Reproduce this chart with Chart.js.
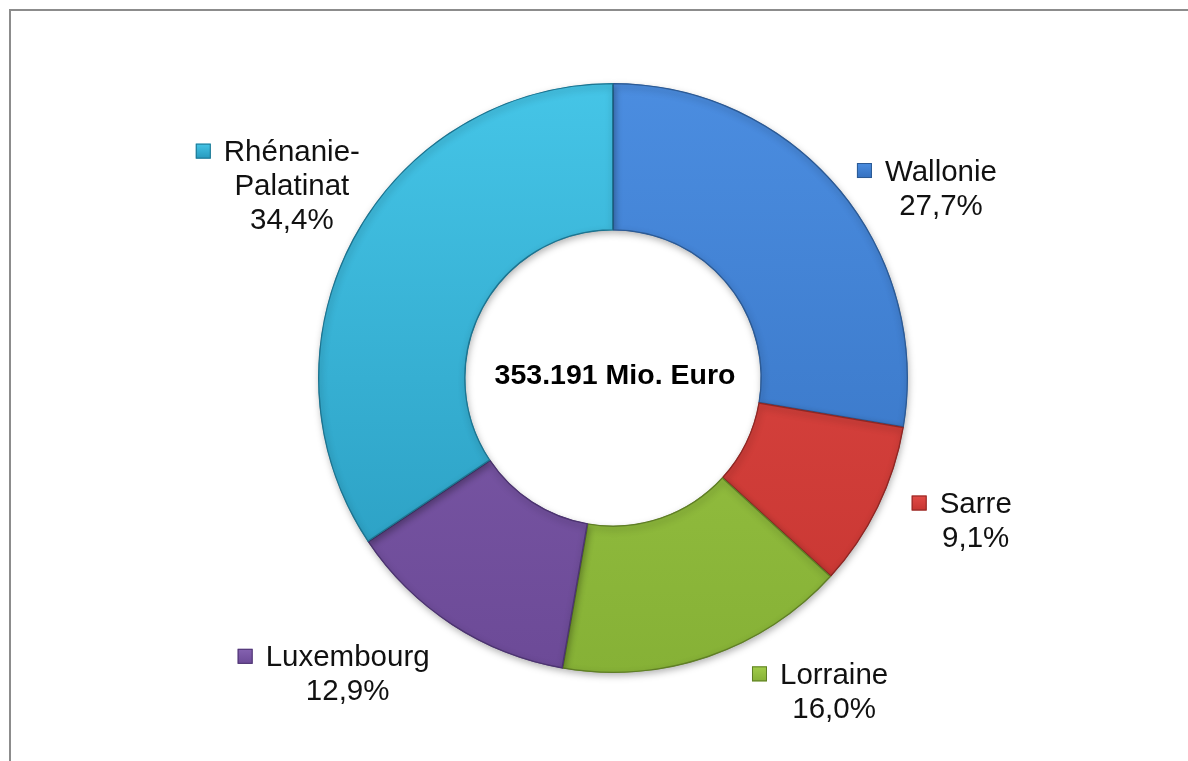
<!DOCTYPE html>
<html lang="fr">
<head>
<meta charset="utf-8">
<title>Répartition par région</title>
<script src="https://cdn.jsdelivr.net/npm/chart.js@4.4.1/dist/chart.umd.min.js"></script>
<style>
  html, body { margin: 0; padding: 0; background: #fff; overflow: hidden; }
  #wrap { position: relative; width: 1188px; height: 761px; }
  #frame {
    position: absolute; left: 9px; top: 9px; width: 1200px; height: 800px;
    border: 2px solid #8c8c8c; box-sizing: border-box;
  }
  #chart { position: absolute; left: 0; top: 0; }
</style>
</head>
<body>
<div id="wrap">
  <div id="frame"></div>
  <canvas id="chart" width="1188" height="761"></canvas>
</div>
<script>
// data (shares in %, clockwise from 12 o'clock)
const regions = ["Wallonie", "Sarre", "Lorraine", "Luxembourg", "Rhénanie-Palatinat"];
const shares = [27.7, 9.1, 16.0, 12.9, 34.4];
const totalLabel = "353.191 Mio. Euro";

// styles
const topColors = ["#4b8de0", "#e24b46", "#a2cd4a", "#8562b1", "#45c5e7"];
const bottomColors = ["#3470bf", "#c63531", "#86b136", "#6c4a97", "#2799bd"];
const edgeColors = ["#2c5a94", "#8e2724", "#5f7e26", "#4c3470", "#1d7490"];

// label placement: tweak from the radial anchor, in px
const labelShift = [[35, 59], [18, -24], [97, -48], [-56, -24], [17, -10]];

const LABEL_FONT = "29.5px 'Liberation Sans', Arial, sans-serif";
const CENTER_FONT = "bold 28.5px 'Liberation Sans', Arial, sans-serif";

function pctText(v) {
  return v.toFixed(1).replace(".", ",") + "%";
}

function nameLines(name) {
  // wrap after a hyphen like the original labels do
  const idx = name.indexOf("-");
  if (idx === -1) return [name];
  return [name.slice(0, idx + 1), name.slice(idx + 1)];
}

function segmentFill(ctx) {
  const chart = ctx.chart;
  const area = chart.chartArea;
  const i = ctx.dataIndex;
  if (!area) return topColors[i];
  const cy = (area.top + area.bottom) / 2;
  const r = Math.min(area.width, area.height) / 2;
  const g = chart.ctx.createLinearGradient(0, cy - r, 0, cy + r);
  g.addColorStop(0, topColors[i]);
  g.addColorStop(1, bottomColors[i]);
  return g;
}

const ringShadow = {
  id: "ringShadow",
  beforeDatasetsDraw(chart) {
    const c = chart.ctx;
    c.save();
    c.shadowColor = "rgba(0, 0, 0, 0.3)";
    c.shadowBlur = 7;
    c.shadowOffsetX = 1;
    c.shadowOffsetY = 3;
  },
  afterDatasetsDraw(chart) {
    chart.ctx.restore();
  },
};

const ringLabels = {
  id: "ringLabels",
  afterDatasetsDraw(chart) {
    const c = chart.ctx;
    const meta = chart.getDatasetMeta(0);
    const lineH = 34;
    c.save();
    c.textAlign = "center";
    c.textBaseline = "middle";

    meta.data.forEach((arc, i) => {
      const mid = (arc.startAngle + arc.endAngle) / 2;
      const r = arc.outerRadius * 1.3;
      const bx = arc.x + Math.cos(mid) * r + labelShift[i][0];
      const by = arc.y + Math.sin(mid) * r + labelShift[i][1];
      const lines = nameLines(regions[i]).concat(pctText(shares[i]));
      const y0 = by - ((lines.length - 1) * lineH) / 2;

      c.font = LABEL_FONT;
      c.fillStyle = "#111";
      lines.forEach((t, k) => c.fillText(t, bx, y0 + k * lineH));

      // legend key in front of the first line
      const w0 = c.measureText(lines[0]).width;
      const size = 15;
      const sx = bx - w0 / 2 - 13 - size;
      const sy = y0 - 2 - size / 2;
      const g = c.createLinearGradient(0, sy, 0, sy + size);
      g.addColorStop(0, topColors[i]);
      g.addColorStop(1, bottomColors[i]);
      c.fillStyle = g;
      c.fillRect(sx, sy, size, size);
      c.strokeStyle = edgeColors[i];
      c.lineWidth = 1;
      c.strokeRect(sx + 0.5, sy + 0.5, size - 1, size - 1);
    });

    // total in the hole
    const a = meta.data[0];
    c.font = CENTER_FONT;
    c.fillStyle = "#000";
    c.fillText(totalLabel, a.x + 2, a.y - 2);
    c.restore();
  },
};

function init() {
  const el = document.getElementById("chart");
  new Chart(el, {
    type: "doughnut",
    data: {
      labels: regions,
      datasets: [{
        data: shares,
        backgroundColor: segmentFill,
        borderColor: edgeColors,
        borderWidth: 1,
        borderAlign: "inner",
      }],
    },
    options: {
      responsive: false,
      animation: false,
      cutout: "50%",
      layout: {
        padding: { top: 83, bottom: 88, left: 250, right: 212 },
      },
      plugins: {
        legend: { display: false },
        tooltip: { enabled: false },
      },
    },
    plugins: [ringShadow, ringLabels],
  });
}

if (document.readyState === "loading") {
  document.addEventListener("DOMContentLoaded", init);
} else {
  init();
}
</script>
</body>
</html>
